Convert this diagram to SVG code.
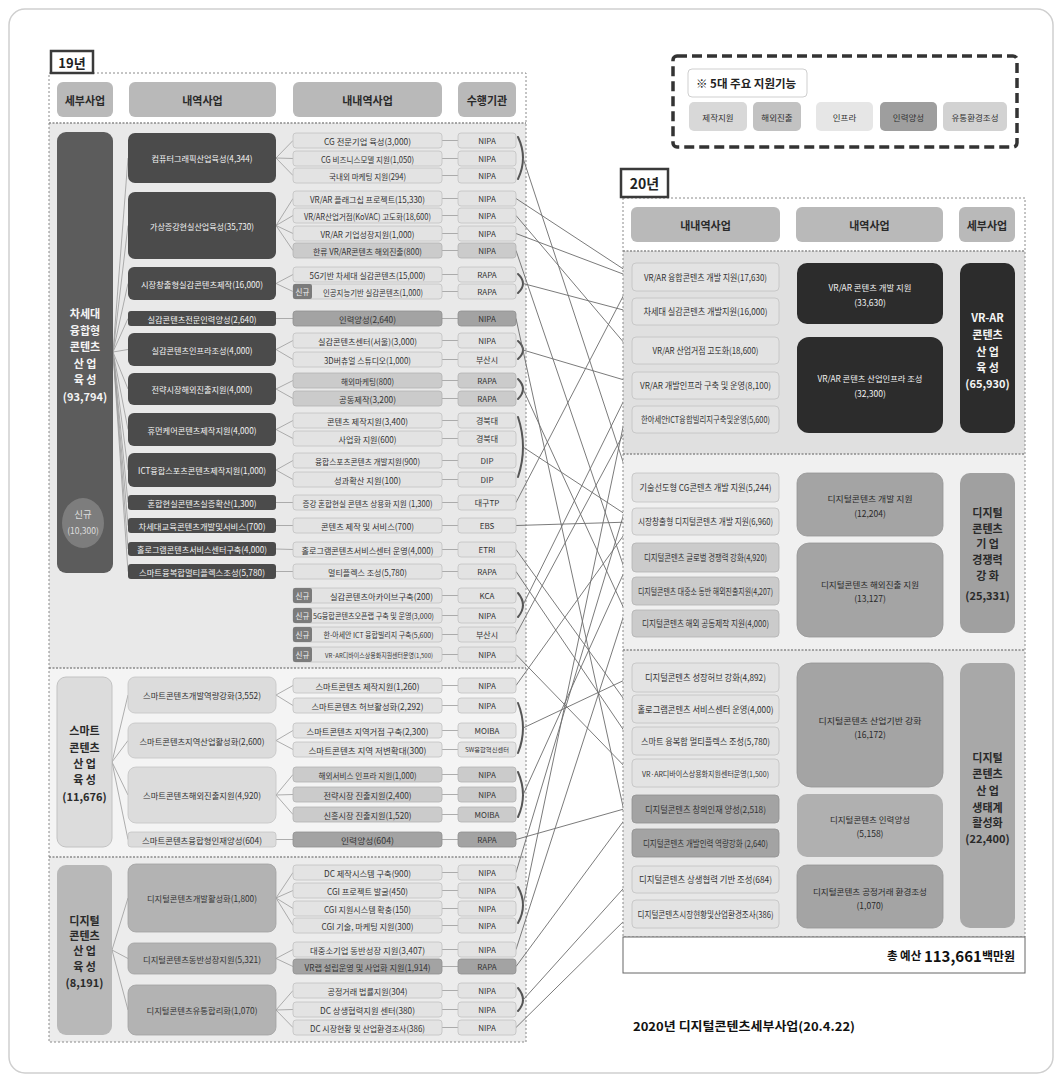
<svg xmlns="http://www.w3.org/2000/svg" width="1062" height="1081" viewBox="0 0 1062 1081">
<defs>
<style>
text{font-family:"Noto Sans CJK KR","Noto Sans",sans-serif;dominant-baseline:central;text-anchor:middle;fill:#333}
.hdr{fill:#b9b9b9}
.hdrT{font-size:11px;font-weight:700;fill:#2a2a2a}
.dk{fill:#4b4b4b}
.dkT{font-size:8.5px;fill:#f2f2f2}
.lt{fill:#e3e3e3;stroke:#c2c2c2;stroke-width:.8}
.md{fill:#cbcbcb;stroke:#b2b2b2;stroke-width:.8}
.hr{fill:#a3a3a3;stroke:#909090;stroke-width:.8}
.sm{fill:#dcdcdc;stroke:#c4c4c4;stroke-width:.8}
.dg{fill:#b3b3b3;stroke:#a2a2a2;stroke-width:.8}
.itT{font-size:8.5px}
.agT{font-size:8px}
.new{fill:#7b7b7b}
.newT{font-size:7.5px;fill:#eee}
.bk{fill:#2c2c2c}
.bkT{font-size:8.5px;fill:#f2f2f2}
.gy{fill:#a4a4a4;stroke:#959595;stroke-width:.8}
.gyT{font-size:8.5px;fill:#2a2a2a}
.rtT{font-size:9px}
.subW{font-size:11px;font-weight:700;fill:#f4f4f4}
.subD{font-size:11px;font-weight:700;fill:#2a2a2a}
.fan{stroke:#9a9a9a;stroke-width:.8;fill:none}
.br{stroke:#555;stroke-width:2;fill:none;stroke-linecap:round}
.cn{stroke:#6c6c6c;stroke-width:.9;fill:none;marker-end:url(#arr)}
.sep{stroke:#8a8a8a;stroke-width:1.5;stroke-dasharray:2 1.5;fill:none}
.frm{stroke:#8a8a8a;stroke-width:1;stroke-dasharray:2 2;fill:none}
.lbl{fill:#fff;stroke:#3a3a3a;stroke-width:2.5}
.lblT{font-size:13px;font-weight:700;fill:#222}
</style>
<marker id="arr" viewBox="0 0 6 6" refX="6" refY="3" markerWidth="6" markerHeight="6" orient="auto" markerUnits="userSpaceOnUse"><path d="M0,0.5 L6,3 L0,5.5 z" fill="#666"/></marker>
</defs>

<!-- page -->
<rect x="0" y="0" width="1062" height="1081" fill="#fff"/>
<rect x="9" y="9" width="1044" height="1064" rx="16" fill="none" stroke="#cfcfcf" stroke-width="1.5"/>

<!-- ===== 2019 panel ===== -->
<g id="panel19">
<rect x="49" y="73" width="477" height="50" fill="#fff"/>
<rect x="49" y="123" width="477" height="545" fill="#e9e9e9"/>
<rect x="49" y="668" width="477" height="189" fill="#f4f4f4"/>
<rect x="49" y="857" width="477" height="185" fill="#ececec"/>
<rect class="frm" x="49" y="73" width="477" height="969"/>
<line class="sep" x1="49" y1="123" x2="526" y2="123"/>
<line class="sep" x1="49" y1="668" x2="526" y2="668"/>
<line class="sep" x1="49" y1="857" x2="526" y2="857"/>
</g>
<g id="label19"><rect class="lbl" x="51" y="51" width="42" height="22"/><text class="lblT" x="72" y="62">19년</text></g>

<g id="h19-sub"><rect class="hdr" x="57" y="82" width="56" height="35" rx="6"/><text class="hdrT" x="85" y="99.5">세부사업</text></g>
<g id="h19-mid"><rect class="hdr" x="129" y="82" width="147" height="35" rx="6"/><text class="hdrT" x="202.5" y="99.5">내역사업</text></g>
<g id="h19-item"><rect class="hdr" x="293" y="82" width="149" height="35" rx="6"/><text class="hdrT" x="367.5" y="99.5">내내역사업</text></g>
<g id="h19-agency"><rect class="hdr" x="458" y="82" width="58" height="35" rx="6"/><text class="hdrT" x="487" y="99.5">수행기관</text></g>

<!-- ===== connectors ===== -->
<g id="connectors">
<!-- 세부사업 -> 내역사업 (2019) -->
<g id="fan19-sub">
<path class="fan" d="M113,352 L128,158 M113,352 L128,225.5 M113,352 L128,283.5 M113,352 L128,318.5 M113,352 L128,349.5 M113,352 L128,389 M113,352 L128,429.5 M113,352 L128,470 M113,352 L128,502.5 M113,352 L128,525.5 M113,352 L128,549 M113,352 L128,571.5"/>
<path class="fan" d="M112,762 L128,695 M112,762 L128,740.5 M112,762 L128,795 M112,762 L128,839.5"/>
<path class="fan" d="M112,950 L128,898 M112,950 L128,958.5 M112,950 L128,1010"/>
</g>
<!-- 내역사업 -> 내내역사업 (2019) -->
<g id="fan19-mid">
<path class="fan" d="M276,158 L293,140.5 M276,158 L293,158.5 M276,158 L293,175.5"/>
<path class="fan" d="M276,225.5 L293,198.5 M276,225.5 L293,215.5 M276,225.5 L293,233.5 M276,225.5 L293,250.5"/>
<path class="fan" d="M276,283.5 L293,274.5 M276,283.5 L293,291.5 M276,318.5 L293,318.5"/>
<path class="fan" d="M276,349.5 L293,340.5 M276,349.5 L293,359.5 M276,389 L293,380.5 M276,389 L293,398.5"/>
<path class="fan" d="M276,429.5 L293,420.5 M276,429.5 L293,438.5 M276,470 L293,460.5 M276,470 L293,479.5"/>
<path class="fan" d="M276,502.5 L293,502.5 M276,525.5 L293,525.5 M276,549 L293,549.5 M276,571.5 L293,571.5"/>
<path class="fan" d="M276,695 L293,685.5 M276,695 L293,705.5 M276,740.5 L293,730.5 M276,740.5 L293,749.5"/>
<path class="fan" d="M276,795 L293,774.5 M276,795 L293,794.5 M276,795 L293,814.5 M276,839.5 L293,839.5"/>
<path class="fan" d="M276,898 L293,872.5 M276,898 L293,890.5 M276,898 L293,908.5 M276,898 L293,925.5"/>
<path class="fan" d="M276,958.5 L293,949.5 M276,958.5 L293,966.5 M276,1010 L293,990.5 M276,1010 L293,1009.5 M276,1010 L293,1027.5"/>
</g>
<!-- 내내역사업 -> 수행기관 (2019) -->
<g id="fan19-agency">
<path class="fan" d="M442,140.5H458M442,158.5H458M442,175.5H458M442,198.5H458M442,215.5H458M442,233.5H458M442,250.5H458M442,274.5H458M442,291.5H458M442,318.5H458M442,340.5H458M442,359.5H458M442,380.5H458M442,398.5H458M442,420.5H458M442,438.5H458M442,460.5H458M442,479.5H458M442,502.5H458M442,525.5H458M442,549.5H458M442,571.5H458M442,595.5H458M442,615.5H458M442,634.5H458M442,654.5H458"/>
<path class="fan" d="M442,685.5H458M442,705.5H458M442,730.5H458M442,749.5H458M442,774.5H458M442,794.5H458M442,814.5H458M442,839.5H458M442,872.5H458M442,890.5H458M442,908.5H458M442,925.5H458M442,949.5H458M442,966.5H458M442,990.5H458M442,1009.5H458M442,1027.5H458"/>
</g>
<!-- 수행기관 묶음 괄호 -->
<g id="brackets">
<path class="br" d="M518,137 Q528,158 518,179"/>
<path class="br" d="M518,274 Q528,283.5 518,293"/>
<path class="br" d="M518,341 Q528,350 518,359"/>
<path class="br" d="M518,379 Q528,389 518,399"/>
<path class="br" d="M518,417 Q528,447 518,477"/>
<path class="br" d="M518,593 Q528,605 518,617"/>
<path class="br" d="M518,703 Q528,728 518,753"/>
<path class="br" d="M518,772 Q528,795 518,817"/>
<path class="br" d="M518,887 Q528,905 518,923"/>
<path class="br" d="M518,988 Q528,1000 518,1011"/>
</g>
<!-- 2019 -> 2020 -->
<g id="links">
<line class="cn" x1="523" y1="158" x2="631" y2="486"/>
<line class="cn" x1="516" y1="872.5" x2="631" y2="490"/>
<line class="cn" x1="516" y1="198.5" x2="631" y2="274"/>
<line class="cn" x1="516" y1="233.5" x2="631" y2="277"/>
<line class="cn" x1="516" y1="502.5" x2="631" y2="281"/>
<line class="cn" x1="516" y1="215.5" x2="631" y2="351"/>
<line class="cn" x1="516" y1="250.5" x2="631" y2="588"/>
<line class="cn" x1="516" y1="949.5" x2="631" y2="593"/>
<line class="cn" x1="523" y1="283.5" x2="631" y2="312"/>
<line class="cn" x1="516" y1="318.5" x2="631" y2="843"/>
<line class="cn" x1="523" y1="350" x2="631" y2="382"/>
<line class="cn" x1="523" y1="605" x2="631" y2="386"/>
<line class="cn" x1="523" y1="905" x2="631" y2="389"/>
<line class="cn" x1="523" y1="389" x2="631" y2="624"/>
<line class="cn" x1="523" y1="447" x2="631" y2="518"/>
<line class="cn" x1="516" y1="525.5" x2="631" y2="522"/>
<line class="cn" x1="516" y1="685.5" x2="631" y2="525"/>
<line class="cn" x1="516" y1="549.5" x2="631" y2="709"/>
<line class="cn" x1="516" y1="571.5" x2="631" y2="741"/>
<line class="cn" x1="516" y1="634.5" x2="631" y2="420"/>
<line class="cn" x1="516" y1="654.5" x2="631" y2="773"/>
<line class="cn" x1="523" y1="728" x2="631" y2="677"/>
<line class="cn" x1="523" y1="795" x2="631" y2="557"/>
<line class="cn" x1="516" y1="839.5" x2="631" y2="807"/>
<line class="cn" x1="516" y1="966.5" x2="631" y2="811"/>
<line class="cn" x1="523" y1="1000" x2="631" y2="880"/>
<line class="cn" x1="516" y1="1027.5" x2="631" y2="914"/>
</g>
<!-- 2020 fans -->
<g id="fan20">
<path class="fan" d="M779,277 L797,293.5 M779,311.5 L797,293.5"/>
<path class="fan" d="M779,350.5 L797,385 M779,385.5 L797,385 M779,419.5 L797,385"/>
<path class="fan" d="M779,487.5 L797,504.5 M779,521.5 L797,504.5"/>
<path class="fan" d="M779,557.5 L797,590 M779,591 L797,590 M779,623.5 L797,590"/>
<path class="fan" d="M779,677.5 L797,725 M779,709 L797,725 M779,741 L797,725 M779,773 L797,725"/>
<path class="fan" d="M779,809 L797,825.5 M779,843 L797,825.5"/>
<path class="fan" d="M779,879.5 L797,896.5 M779,914 L797,896.5"/>
<path class="fan" d="M943,293.5 L960,348 M943,385 L960,348"/>
<path class="fan" d="M943,504.5 L960,553 M943,590 L960,553"/>
<path class="fan" d="M943,725 L960,795.5 M943,825.5 L960,795.5 M943,896.5 L960,795.5"/>
</g>
</g>

<!-- ===== 2019 세부사업 ===== -->
<g id="s19-1">
<rect x="57" y="132" width="56" height="441" rx="9" fill="#5c5c5c"/>
<text class="subW" x="85" y="313">차세대</text><text class="subW" x="85" y="329.5">융합형</text><text class="subW" x="85" y="346">콘텐츠</text><text class="subW" x="85" y="362.5">산 업</text><text class="subW" x="85" y="379">육 성</text><text class="subW" x="85" y="395.5">(93,794)</text>
</g>
<g id="s19-new"><ellipse cx="83" cy="523" rx="21" ry="25" fill="#7d7d7d"/><text x="83" y="514" style="font-size:9.5px;fill:#ddd">신규</text><text x="83" y="530" style="font-size:8.5px;fill:#ddd">(10,300)</text></g>
<g id="s19-2">
<rect x="57" y="677" width="55" height="170" rx="9" fill="#dcdcdc" stroke="#c2c2c2"/>
<text class="subD" x="84.5" y="730">스마트</text><text class="subD" x="84.5" y="746.5">콘텐츠</text><text class="subD" x="84.5" y="763">산 업</text><text class="subD" x="84.5" y="779">육 성</text><text class="subD" x="84.5" y="795.5">(11,676)</text>
</g>
<g id="s19-3">
<rect x="57" y="865" width="55" height="170" rx="9" fill="#b8b8b8"/>
<text class="subD" x="84.5" y="920">디지털</text><text class="subD" x="84.5" y="935">콘텐츠</text><text class="subD" x="84.5" y="950">산 업</text><text class="subD" x="84.5" y="965.5">육 성</text><text class="subD" x="84.5" y="982">(8,191)</text>
</g>

<!-- ===== 2019 내역사업 ===== -->
<g id="m19-01"><rect class="dk" x="128" y="133" width="148" height="50" rx="7"/><text class="dkT" x="202" y="158" textLength="101" lengthAdjust="spacingAndGlyphs">컴퓨터그래픽산업육성(4,344)</text></g>
<g id="m19-02"><rect class="dk" x="128" y="192" width="148" height="67" rx="7"/><text class="dkT" x="202" y="225.5" textLength="104" lengthAdjust="spacingAndGlyphs">가상증강현실산업육성(35,730)</text></g>
<g id="m19-03"><rect class="dk" x="128" y="267" width="148" height="33" rx="6"/><text class="dkT" x="202" y="283.5" textLength="122" lengthAdjust="spacingAndGlyphs">시장창출형실감콘텐츠제작(16,000)</text></g>
<g id="m19-04"><rect class="dk" x="128" y="311" width="148" height="15" rx="3"/><text class="dkT" x="202" y="318.5" textLength="109" lengthAdjust="spacingAndGlyphs">실감콘텐츠전문인력양성(2,640)</text></g>
<g id="m19-05"><rect class="dk" x="128" y="333" width="148" height="33" rx="6"/><text class="dkT" x="202" y="349.5" textLength="101" lengthAdjust="spacingAndGlyphs">실감콘텐츠인프라조성(4,000)</text></g>
<g id="m19-06"><rect class="dk" x="128" y="373" width="148" height="32" rx="6"/><text class="dkT" x="202" y="389" textLength="101" lengthAdjust="spacingAndGlyphs">전략시장해외진출지원(4,000)</text></g>
<g id="m19-07"><rect class="dk" x="128" y="413" width="148" height="33" rx="6"/><text class="dkT" x="202" y="429.5" textLength="109" lengthAdjust="spacingAndGlyphs">휴먼케어콘텐츠제작지원(4,000)</text></g>
<g id="m19-08"><rect class="dk" x="128" y="453" width="148" height="34" rx="6"/><text class="dkT" x="202" y="470" textLength="128" lengthAdjust="spacingAndGlyphs">ICT융합스포츠콘텐츠제작지원(1,000)</text></g>
<g id="m19-09"><rect class="dk" x="128" y="495" width="148" height="15" rx="3"/><text class="dkT" x="202" y="502.5" textLength="109" lengthAdjust="spacingAndGlyphs">혼합현실콘텐츠실증확산(1,300)</text></g>
<g id="m19-10"><rect class="dk" x="128" y="518" width="148" height="15" rx="3"/><text class="dkT" x="202" y="525.5" textLength="127" lengthAdjust="spacingAndGlyphs">차세대교육콘텐츠개발및서비스(700)</text></g>
<g id="m19-11"><rect class="dk" x="128" y="542" width="148" height="14" rx="3"/><text class="dkT" x="202" y="549" textLength="130" lengthAdjust="spacingAndGlyphs">홀로그램콘텐츠서비스센터구축(4,000)</text></g>
<g id="m19-12"><rect class="dk" x="128" y="564" width="148" height="15" rx="3"/><text class="dkT" x="202" y="571.5" textLength="126" lengthAdjust="spacingAndGlyphs">스마트융복합멀티플렉스조성(5,780)</text></g>
<g id="m19-13"><rect class="sm" x="128" y="677" width="148" height="36" rx="7"/><text class="itT" x="202" y="695" textLength="118" lengthAdjust="spacingAndGlyphs">스마트콘텐츠개발역량강화(3,552)</text></g>
<g id="m19-14"><rect class="sm" x="128" y="723" width="148" height="35" rx="7"/><text class="itT" x="202" y="740.5" textLength="125" lengthAdjust="spacingAndGlyphs">스마트콘텐츠지역산업활성화(2,600)</text></g>
<g id="m19-15"><rect class="sm" x="128" y="767" width="148" height="56" rx="8"/><text class="itT" x="202" y="795" textLength="118" lengthAdjust="spacingAndGlyphs">스마트콘텐츠해외진출지원(4,920)</text></g>
<g id="m19-16"><rect class="sm" x="128" y="832" width="148" height="15" rx="3"/><text class="itT" x="202" y="839.5" textLength="120" lengthAdjust="spacingAndGlyphs">스마트콘텐츠융합형인재양성(604)</text></g>
<g id="m19-17"><rect class="dg" x="128" y="864" width="148" height="68" rx="8"/><text class="itT" x="202" y="898" textLength="110" lengthAdjust="spacingAndGlyphs">디지털콘텐츠개발활성화(1,800)</text></g>
<g id="m19-18"><rect class="dg" x="128" y="943" width="148" height="31" rx="6"/><text class="itT" x="202" y="958.5" textLength="118" lengthAdjust="spacingAndGlyphs">디지털콘텐츠동반성장지원(5,321)</text></g>
<g id="m19-19"><rect class="dg" x="128" y="985" width="148" height="50" rx="8"/><text class="itT" x="202" y="1010" textLength="111" lengthAdjust="spacingAndGlyphs">디지털콘텐츠유통합리화(1,070)</text></g>

<!-- ===== 2019 내내역사업 ===== -->
<g id="i19-01"><rect class="lt" x="293" y="133" width="149" height="15" rx="3"/><text class="itT" x="367.5" y="140.5" textLength="87" lengthAdjust="spacingAndGlyphs">CG 전문기업 육성(3,000)</text></g>
<g id="i19-02"><rect class="lt" x="293" y="151" width="149" height="15" rx="3"/><text class="itT" x="367.5" y="158.5" textLength="93" lengthAdjust="spacingAndGlyphs">CG 비즈니스모델 지원(1,050)</text></g>
<g id="i19-03"><rect class="lt" x="293" y="168" width="149" height="15" rx="3"/><text class="itT" x="367.5" y="175.5" textLength="77" lengthAdjust="spacingAndGlyphs">국내외 마케팅 지원(294)</text></g>
<g id="i19-04"><rect class="lt" x="293" y="191" width="149" height="15" rx="3"/><text class="itT" x="367.5" y="198.5" textLength="115" lengthAdjust="spacingAndGlyphs">VR/AR 플래그십 프로젝트(15,330)</text></g>
<g id="i19-05"><rect class="lt" x="293" y="208" width="149" height="15" rx="3"/><text class="itT" x="367.5" y="215.5" textLength="127" lengthAdjust="spacingAndGlyphs">VR/AR산업거점(KoVAC) 고도화(18,600)</text></g>
<g id="i19-06"><rect class="lt" x="293" y="226" width="149" height="15" rx="3"/><text class="itT" x="367.5" y="233.5" textLength="94" lengthAdjust="spacingAndGlyphs">VR/AR 기업성장지원(1,000)</text></g>
<g id="i19-07"><rect class="md" x="293" y="243" width="149" height="15" rx="3"/><text class="itT" x="367.5" y="250.5" textLength="109" lengthAdjust="spacingAndGlyphs">한류 VR/AR콘텐츠 해외진출(800)</text></g>
<g id="i19-08"><rect class="lt" x="293" y="267" width="149" height="15" rx="3"/><text class="itT" x="367.5" y="274.5" textLength="116" lengthAdjust="spacingAndGlyphs">5G기반 차세대 실감콘텐츠(15,000)</text></g>
<g id="i19-09"><rect class="lt" x="293" y="284" width="149" height="15" rx="3"/><rect class="new" x="293" y="284" width="19" height="15" rx="2"/><text class="newT" x="302.5" y="291.5">신규</text><text class="itT" x="373" y="291.5" textLength="100" lengthAdjust="spacingAndGlyphs">인공지능기반 실감콘텐츠(1,000)</text></g>
<g id="i19-10"><rect class="hr" x="293" y="311" width="149" height="15" rx="3"/><text class="itT" x="367.5" y="318.5" textLength="57" lengthAdjust="spacingAndGlyphs">인력양성(2,640)</text></g>
<g id="i19-11"><rect class="lt" x="293" y="333" width="149" height="15" rx="3"/><text class="itT" x="367.5" y="340.5" textLength="99" lengthAdjust="spacingAndGlyphs">실감콘텐츠센터(서울)(3,000)</text></g>
<g id="i19-12"><rect class="lt" x="293" y="352" width="149" height="15" rx="3"/><text class="itT" x="367.5" y="359.5" textLength="87" lengthAdjust="spacingAndGlyphs">3D버츄얼 스튜디오(1,000)</text></g>
<g id="i19-13"><rect class="md" x="293" y="373" width="149" height="15" rx="3"/><text class="itT" x="367.5" y="380.5" textLength="53" lengthAdjust="spacingAndGlyphs">해외마케팅(800)</text></g>
<g id="i19-14"><rect class="md" x="293" y="391" width="149" height="15" rx="3"/><text class="itT" x="367.5" y="398.5" textLength="57" lengthAdjust="spacingAndGlyphs">공동제작(3,200)</text></g>
<g id="i19-15"><rect class="lt" x="293" y="413" width="149" height="15" rx="3"/><text class="itT" x="367.5" y="420.5" textLength="81" lengthAdjust="spacingAndGlyphs">콘텐츠 제작지원(3,400)</text></g>
<g id="i19-16"><rect class="lt" x="293" y="431" width="149" height="15" rx="3"/><text class="itT" x="367.5" y="438.5" textLength="58" lengthAdjust="spacingAndGlyphs">사업화 지원(600)</text></g>
<g id="i19-17"><rect class="lt" x="293" y="453" width="149" height="15" rx="3"/><text class="itT" x="367.5" y="460.5" textLength="105" lengthAdjust="spacingAndGlyphs">융합스포츠콘텐츠 개발지원(900)</text></g>
<g id="i19-18"><rect class="lt" x="293" y="472" width="149" height="15" rx="3"/><text class="itT" x="367.5" y="479.5" textLength="67" lengthAdjust="spacingAndGlyphs">성과확산 지원(100)</text></g>
<g id="i19-19"><rect class="lt" x="293" y="495" width="149" height="15" rx="3"/><text class="itT" x="367.5" y="502.5" textLength="130" lengthAdjust="spacingAndGlyphs">증강 혼합현실 콘텐츠 상용화 지원 (1,300)</text></g>
<g id="i19-20"><rect class="lt" x="293" y="518" width="149" height="15" rx="3"/><text class="itT" x="367.5" y="525.5" textLength="93" lengthAdjust="spacingAndGlyphs">콘텐츠 제작 및 서비스(700)</text></g>
<g id="i19-21"><rect class="lt" x="293" y="542" width="149" height="15" rx="3"/><text class="itT" x="367.5" y="549.5" textLength="132" lengthAdjust="spacingAndGlyphs">홀로그램콘텐츠서비스센터 운영(4,000)</text></g>
<g id="i19-22"><rect class="lt" x="293" y="564" width="149" height="15" rx="3"/><text class="itT" x="367.5" y="571.5" textLength="79" lengthAdjust="spacingAndGlyphs">멀티플렉스 조성(5,780)</text></g>
<g id="i19-23"><rect class="lt" x="293" y="588" width="149" height="15" rx="3"/><rect class="new" x="293" y="588" width="19" height="15" rx="2"/><text class="newT" x="302.5" y="595.5">신규</text><text class="itT" x="381.5" y="595.5" textLength="103" lengthAdjust="spacingAndGlyphs">실감콘텐츠아카이브구축(200)</text></g>
<g id="i19-24"><rect class="lt" x="293" y="608" width="149" height="15" rx="3"/><rect class="new" x="293" y="608" width="19" height="15" rx="2"/><text class="newT" x="302.5" y="615.5">신규</text><text class="itT" x="373.5" y="615.5" style="font-size:7.5px" textLength="121" lengthAdjust="spacingAndGlyphs">5G융합콘텐츠오픈랩 구축 및 운영(3,000)</text></g>
<g id="i19-25"><rect class="lt" x="293" y="627" width="149" height="15" rx="3"/><rect class="new" x="293" y="627" width="19" height="15" rx="2"/><text class="newT" x="302.5" y="634.5">신규</text><text class="itT" x="378.5" y="634.5" style="font-size:7.5px" textLength="110" lengthAdjust="spacingAndGlyphs">한-아세안 ICT 융합빌리지 구축(5,600)</text></g>
<g id="i19-26"><rect class="lt" x="293" y="647" width="149" height="15" rx="3"/><rect class="new" x="293" y="647" width="19" height="15" rx="2"/><text class="newT" x="302.5" y="654.5">신규</text><text class="itT" x="379" y="654.5" style="font-size:6.5px" textLength="108" lengthAdjust="spacingAndGlyphs">VR·AR디바이스상용화지원센터운영(1,500)</text></g>
<g id="i19-27"><rect class="lt" x="293" y="678" width="149" height="15" rx="3"/><text class="itT" x="367.5" y="685.5" textLength="104" lengthAdjust="spacingAndGlyphs">스마트콘텐츠 제작지원(1,260)</text></g>
<g id="i19-28"><rect class="lt" x="293" y="698" width="149" height="15" rx="3"/><text class="itT" x="367.5" y="705.5" textLength="112" lengthAdjust="spacingAndGlyphs">스마트콘텐츠 허브활성화(2,292)</text></g>
<g id="i19-29"><rect class="lt" x="293" y="723" width="149" height="15" rx="3"/><text class="itT" x="367.5" y="730.5" textLength="122" lengthAdjust="spacingAndGlyphs">스마트콘텐츠 지역거점 구축(2,300)</text></g>
<g id="i19-30"><rect class="lt" x="293" y="742" width="149" height="15" rx="3"/><text class="itT" x="367.5" y="749.5" textLength="118" lengthAdjust="spacingAndGlyphs">스마트콘텐츠 지역 저변확대(300)</text></g>
<g id="i19-31"><rect class="md" x="293" y="767" width="149" height="15" rx="3"/><text class="itT" x="367.5" y="774.5" textLength="98" lengthAdjust="spacingAndGlyphs">해외서비스 인프라 지원(1,000)</text></g>
<g id="i19-32"><rect class="md" x="293" y="787" width="149" height="15" rx="3"/><text class="itT" x="367.5" y="794.5" textLength="88" lengthAdjust="spacingAndGlyphs">전략시장 진출지원(2,400)</text></g>
<g id="i19-33"><rect class="md" x="293" y="807" width="149" height="15" rx="3"/><text class="itT" x="367.5" y="814.5" textLength="88" lengthAdjust="spacingAndGlyphs">신흥시장 진출지원(1,520)</text></g>
<g id="i19-34"><rect class="hr" x="293" y="832" width="149" height="15" rx="3"/><text class="itT" x="367.5" y="839.5" textLength="53" lengthAdjust="spacingAndGlyphs">인력양성(604)</text></g>
<g id="i19-35"><rect class="lt" x="293" y="865" width="149" height="15" rx="3"/><text class="itT" x="367.5" y="872.5" textLength="87" lengthAdjust="spacingAndGlyphs">DC 제작시스템 구축(900)</text></g>
<g id="i19-36"><rect class="lt" x="293" y="883" width="149" height="15" rx="3"/><text class="itT" x="367.5" y="890.5" textLength="81" lengthAdjust="spacingAndGlyphs">CGI 프로젝트 발굴(450)</text></g>
<g id="i19-37"><rect class="lt" x="293" y="901" width="149" height="15" rx="3"/><text class="itT" x="367.5" y="908.5" textLength="87" lengthAdjust="spacingAndGlyphs">CGI 지원시스템 확충(150)</text></g>
<g id="i19-38"><rect class="lt" x="293" y="918" width="149" height="15" rx="3"/><text class="itT" x="367.5" y="925.5" textLength="92" lengthAdjust="spacingAndGlyphs">CGI 기술, 마케팅 지원(300)</text></g>
<g id="i19-39"><rect class="lt" x="293" y="942" width="149" height="15" rx="3"/><text class="itT" x="367.5" y="949.5" textLength="115" lengthAdjust="spacingAndGlyphs">대중소기업 동반성장 지원(3,407)</text></g>
<g id="i19-40"><rect class="hr" x="293" y="959" width="149" height="15" rx="3"/><text class="itT" x="367.5" y="966.5" textLength="126" lengthAdjust="spacingAndGlyphs">VR랩 설립운영 및 사업화 지원(1,914)</text></g>
<g id="i19-41"><rect class="lt" x="293" y="983" width="149" height="15" rx="3"/><text class="itT" x="367.5" y="990.5" textLength="80" lengthAdjust="spacingAndGlyphs">공정거래 법률지원(304)</text></g>
<g id="i19-42"><rect class="lt" x="293" y="1002" width="149" height="15" rx="3"/><text class="itT" x="367.5" y="1009.5" textLength="95" lengthAdjust="spacingAndGlyphs">DC 상생협력지원 센터(380)</text></g>
<g id="i19-43"><rect class="lt" x="293" y="1020" width="149" height="15" rx="3"/><text class="itT" x="367.5" y="1027.5" textLength="115" lengthAdjust="spacingAndGlyphs">DC 시장현황 및 산업환경조사(386)</text></g>

<!-- ===== 2019 수행기관 ===== -->
<g id="a19-01"><rect class="lt" x="458" y="133" width="58" height="15" rx="3"/><text class="agT" x="487" y="140.5">NIPA</text></g>
<g id="a19-02"><rect class="lt" x="458" y="151" width="58" height="15" rx="3"/><text class="agT" x="487" y="158.5">NIPA</text></g>
<g id="a19-03"><rect class="lt" x="458" y="168" width="58" height="15" rx="3"/><text class="agT" x="487" y="175.5">NIPA</text></g>
<g id="a19-04"><rect class="lt" x="458" y="191" width="58" height="15" rx="3"/><text class="agT" x="487" y="198.5">NIPA</text></g>
<g id="a19-05"><rect class="lt" x="458" y="208" width="58" height="15" rx="3"/><text class="agT" x="487" y="215.5">NIPA</text></g>
<g id="a19-06"><rect class="lt" x="458" y="226" width="58" height="15" rx="3"/><text class="agT" x="487" y="233.5">NIPA</text></g>
<g id="a19-07"><rect class="md" x="458" y="243" width="58" height="15" rx="3"/><text class="agT" x="487" y="250.5">NIPA</text></g>
<g id="a19-08"><rect class="lt" x="458" y="267" width="58" height="15" rx="3"/><text class="agT" x="487" y="274.5">RAPA</text></g>
<g id="a19-09"><rect class="lt" x="458" y="284" width="58" height="15" rx="3"/><text class="agT" x="487" y="291.5">RAPA</text></g>
<g id="a19-10"><rect class="hr" x="458" y="311" width="58" height="15" rx="3"/><text class="agT" x="487" y="318.5">NIPA</text></g>
<g id="a19-11"><rect class="lt" x="458" y="333" width="58" height="15" rx="3"/><text class="agT" x="487" y="340.5">NIPA</text></g>
<g id="a19-12"><rect class="lt" x="458" y="352" width="58" height="15" rx="3"/><text class="agT" x="487" y="359.5">부산시</text></g>
<g id="a19-13"><rect class="md" x="458" y="373" width="58" height="15" rx="3"/><text class="agT" x="487" y="380.5">RAPA</text></g>
<g id="a19-14"><rect class="md" x="458" y="391" width="58" height="15" rx="3"/><text class="agT" x="487" y="398.5">RAPA</text></g>
<g id="a19-15"><rect class="lt" x="458" y="413" width="58" height="15" rx="3"/><text class="agT" x="487" y="420.5">경북대</text></g>
<g id="a19-16"><rect class="lt" x="458" y="431" width="58" height="15" rx="3"/><text class="agT" x="487" y="438.5">경북대</text></g>
<g id="a19-17"><rect class="lt" x="458" y="453" width="58" height="15" rx="3"/><text class="agT" x="487" y="460.5">DIP</text></g>
<g id="a19-18"><rect class="lt" x="458" y="472" width="58" height="15" rx="3"/><text class="agT" x="487" y="479.5">DIP</text></g>
<g id="a19-19"><rect class="lt" x="458" y="495" width="58" height="15" rx="3"/><text class="agT" x="487" y="502.5">대구TP</text></g>
<g id="a19-20"><rect class="lt" x="458" y="518" width="58" height="15" rx="3"/><text class="agT" x="487" y="525.5">EBS</text></g>
<g id="a19-21"><rect class="lt" x="458" y="542" width="58" height="15" rx="3"/><text class="agT" x="487" y="549.5">ETRI</text></g>
<g id="a19-22"><rect class="lt" x="458" y="564" width="58" height="15" rx="3"/><text class="agT" x="487" y="571.5">RAPA</text></g>
<g id="a19-23"><rect class="lt" x="458" y="588" width="58" height="15" rx="3"/><text class="agT" x="487" y="595.5">KCA</text></g>
<g id="a19-24"><rect class="lt" x="458" y="608" width="58" height="15" rx="3"/><text class="agT" x="487" y="615.5">NIPA</text></g>
<g id="a19-25"><rect class="lt" x="458" y="627" width="58" height="15" rx="3"/><text class="agT" x="487" y="634.5">부산시</text></g>
<g id="a19-26"><rect class="lt" x="458" y="647" width="58" height="15" rx="3"/><text class="agT" x="487" y="654.5">NIPA</text></g>
<g id="a19-27"><rect class="lt" x="458" y="678" width="58" height="15" rx="3"/><text class="agT" x="487" y="685.5">NIPA</text></g>
<g id="a19-28"><rect class="lt" x="458" y="698" width="58" height="15" rx="3"/><text class="agT" x="487" y="705.5">NIPA</text></g>
<g id="a19-29"><rect class="lt" x="458" y="723" width="58" height="15" rx="3"/><text class="agT" x="487" y="730.5">MOIBA</text></g>
<g id="a19-30"><rect class="lt" x="458" y="742" width="58" height="15" rx="3"/><text class="agT" x="487" y="749.5" style="font-size:6px" textLength="44" lengthAdjust="spacingAndGlyphs">SW융합혁신센터</text></g>
<g id="a19-31"><rect class="md" x="458" y="767" width="58" height="15" rx="3"/><text class="agT" x="487" y="774.5">NIPA</text></g>
<g id="a19-32"><rect class="md" x="458" y="787" width="58" height="15" rx="3"/><text class="agT" x="487" y="794.5">NIPA</text></g>
<g id="a19-33"><rect class="md" x="458" y="807" width="58" height="15" rx="3"/><text class="agT" x="487" y="814.5">MOIBA</text></g>
<g id="a19-34"><rect class="hr" x="458" y="832" width="58" height="15" rx="3"/><text class="agT" x="487" y="839.5">RAPA</text></g>
<g id="a19-35"><rect class="lt" x="458" y="865" width="58" height="15" rx="3"/><text class="agT" x="487" y="872.5">NIPA</text></g>
<g id="a19-36"><rect class="lt" x="458" y="883" width="58" height="15" rx="3"/><text class="agT" x="487" y="890.5">NIPA</text></g>
<g id="a19-37"><rect class="lt" x="458" y="901" width="58" height="15" rx="3"/><text class="agT" x="487" y="908.5">NIPA</text></g>
<g id="a19-38"><rect class="lt" x="458" y="918" width="58" height="15" rx="3"/><text class="agT" x="487" y="925.5">NIPA</text></g>
<g id="a19-39"><rect class="lt" x="458" y="942" width="58" height="15" rx="3"/><text class="agT" x="487" y="949.5">NIPA</text></g>
<g id="a19-40"><rect class="hr" x="458" y="959" width="58" height="15" rx="3"/><text class="agT" x="487" y="966.5">RAPA</text></g>
<g id="a19-41"><rect class="lt" x="458" y="983" width="58" height="15" rx="3"/><text class="agT" x="487" y="990.5">NIPA</text></g>
<g id="a19-42"><rect class="lt" x="458" y="1002" width="58" height="15" rx="3"/><text class="agT" x="487" y="1009.5">NIPA</text></g>
<g id="a19-43"><rect class="lt" x="458" y="1020" width="58" height="15" rx="3"/><text class="agT" x="487" y="1027.5">NIPA</text></g>

<!-- ===== legend ===== -->
<g id="legend">
<rect x="673" y="56" width="344" height="91" rx="4" fill="#fff" stroke="#333" stroke-width="3.5" stroke-dasharray="10 5"/>
<rect x="688" y="69" width="119" height="28" rx="4" fill="#fff" stroke="#cfcfcf"/>
<text x="696" y="83" style="text-anchor:start;font-size:11.5px;font-weight:700;fill:#222">※ 5대 주요 지원기능</text>
<rect x="689" y="102" width="58" height="29" rx="5" fill="#d8d8d8"/><text x="718" y="116.5" style="font-size:8.5px">제작지원</text>
<rect x="753" y="102" width="48" height="29" rx="5" fill="#c2c2c2"/><text x="777" y="116.5" style="font-size:8.5px">해외진출</text>
<rect x="816" y="102" width="57" height="29" rx="5" fill="#e6e6e6"/><text x="844.5" y="116.5" style="font-size:8.5px">인프라</text>
<rect x="880" y="102" width="57" height="29" rx="5" fill="#9e9e9e"/><text x="908.5" y="116.5" style="font-size:8.5px">인력양성</text>
<rect x="943" y="102" width="64" height="29" rx="5" fill="#d2d2d2"/><text x="975" y="116.5" style="font-size:8.5px">유통환경조성</text>
</g>

<!-- ===== 2020 panel ===== -->
<g id="panel20">
<rect x="623" y="198" width="402" height="53" fill="#fff"/>
<rect x="623" y="251" width="402" height="203" fill="#e0e0e0"/>
<rect x="623" y="454" width="402" height="196" fill="#f0f0f0"/>
<rect x="623" y="650" width="402" height="287" fill="#e7e7e7"/>
<rect class="frm" x="623" y="198" width="402" height="739"/>
<line class="sep" x1="623" y1="251" x2="1025" y2="251"/>
<line class="sep" x1="623" y1="454" x2="1025" y2="454"/>
<line class="sep" x1="623" y1="650" x2="1025" y2="650"/>
</g>
<g id="label20"><rect class="lbl" x="621" y="169" width="47" height="28"/><text class="lblT" x="644.5" y="183" style="font-size:14px">20년</text></g>

<g id="h20-item"><rect class="hdr" x="631" y="207" width="149" height="35" rx="6"/><text class="hdrT" x="705.5" y="224.5">내내역사업</text></g>
<g id="h20-mid"><rect class="hdr" x="796" y="207" width="147" height="35" rx="6"/><text class="hdrT" x="869.5" y="224.5">내역사업</text></g>
<g id="h20-sub"><rect class="hdr" x="959" y="207" width="56" height="35" rx="6"/><text class="hdrT" x="987" y="224.5">세부사업</text></g>

<!-- ===== 2020 내내역사업 ===== -->
<g id="i20-01"><rect class="lt" x="632" y="263" width="147" height="28" rx="4"/><text class="rtT" x="705.5" y="277" textLength="123" lengthAdjust="spacingAndGlyphs">VR/AR 융합콘텐츠 개발 지원(17,630)</text></g>
<g id="i20-02"><rect class="lt" x="632" y="298" width="147" height="27" rx="4"/><text class="rtT" x="705.5" y="311.5" textLength="124" lengthAdjust="spacingAndGlyphs">차세대 실감콘텐츠 개발지원(16,000)</text></g>
<g id="i20-03"><rect class="lt" x="632" y="337" width="147" height="27" rx="4"/><text class="rtT" x="705.5" y="350.5" textLength="106" lengthAdjust="spacingAndGlyphs">VR/AR 산업거점 고도화(18,600)</text></g>
<g id="i20-04"><rect class="lt" x="632" y="372" width="147" height="27" rx="4"/><text class="rtT" x="705.5" y="385.5" textLength="131" lengthAdjust="spacingAndGlyphs">VR/AR 개발인프라 구축 및 운영(8,100)</text></g>
<g id="i20-05"><rect class="lt" x="632" y="406" width="147" height="27" rx="4"/><text class="rtT" x="705.5" y="419.5" textLength="129" lengthAdjust="spacingAndGlyphs">한아세안ICT융합빌리지구축및운영(5,600)</text></g>
<g id="i20-06"><rect class="lt" x="632" y="473" width="147" height="29" rx="4"/><text class="rtT" x="705.5" y="487.5" textLength="132" lengthAdjust="spacingAndGlyphs">기술선도형 CG콘텐츠 개발 지원(5,244)</text></g>
<g id="i20-07"><rect class="lt" x="632" y="508" width="147" height="27" rx="4"/><text class="rtT" x="705.5" y="521.5" textLength="135" lengthAdjust="spacingAndGlyphs">시장창출형 디지털콘텐츠 개발 지원(6,960)</text></g>
<g id="i20-08"><rect class="md" x="632" y="543" width="147" height="29" rx="4"/><text class="rtT" x="705.5" y="557.5" textLength="123" lengthAdjust="spacingAndGlyphs">디지털콘텐츠 글로벌 경쟁력 강화(4,920)</text></g>
<g id="i20-09"><rect class="md" x="632" y="577" width="147" height="28" rx="4"/><text class="rtT" x="705.5" y="591" textLength="135" lengthAdjust="spacingAndGlyphs">디지털콘텐츠 대중소 동반 해외진출지원(4,207)</text></g>
<g id="i20-10"><rect class="md" x="632" y="610" width="147" height="27" rx="4"/><text class="rtT" x="705.5" y="623.5" textLength="127" lengthAdjust="spacingAndGlyphs">디지털콘텐츠 해외 공동제작 지원(4,000)</text></g>
<g id="i20-11"><rect class="lt" x="632" y="663" width="147" height="29" rx="4"/><text class="rtT" x="705.5" y="677.5" textLength="121" lengthAdjust="spacingAndGlyphs">디지털콘텐츠 성장허브 강화(4,892)</text></g>
<g id="i20-12"><rect class="lt" x="632" y="695" width="147" height="28" rx="4"/><text class="rtT" x="705.5" y="709" textLength="136" lengthAdjust="spacingAndGlyphs">홀로그램콘텐츠 서비스센터 운영(4,000)</text></g>
<g id="i20-13"><rect class="lt" x="632" y="727" width="147" height="28" rx="4"/><text class="rtT" x="705.5" y="741" textLength="129" lengthAdjust="spacingAndGlyphs">스마트 융복합 멀티플렉스 조성(5,780)</text></g>
<g id="i20-14"><rect class="lt" x="632" y="759" width="147" height="28" rx="4"/><text class="rtT" x="705.5" y="773" style="font-size:7.5px" textLength="127" lengthAdjust="spacingAndGlyphs">VR·AR디바이스상용화지원센터운영(1,500)</text></g>
<g id="i20-15"><rect class="hr" x="632" y="795" width="147" height="28" rx="4"/><text class="rtT" x="705.5" y="809" textLength="121" lengthAdjust="spacingAndGlyphs">디지털콘텐츠 창의인재 양성(2,518)</text></g>
<g id="i20-16"><rect class="hr" x="632" y="829" width="147" height="28" rx="4"/><text class="rtT" x="705.5" y="843" textLength="125" lengthAdjust="spacingAndGlyphs">디지털콘텐츠 개발인력 역량강화 (2,640)</text></g>
<g id="i20-17"><rect class="lt" x="632" y="866" width="147" height="27" rx="4"/><text class="rtT" x="705.5" y="879.5" textLength="133" lengthAdjust="spacingAndGlyphs">디지털콘텐츠 상생협력 기반 조성(684)</text></g>
<g id="i20-18"><rect class="lt" x="632" y="900" width="147" height="28" rx="4"/><text class="rtT" x="705.5" y="914" textLength="136" lengthAdjust="spacingAndGlyphs">디지털콘텐츠시장현황및산업환경조사(386)</text></g>

<!-- ===== 2020 내역사업 ===== -->
<g id="m20-01"><rect class="bk" x="797" y="263" width="146" height="61" rx="10"/><text class="bkT" x="870" y="287" textLength="83" lengthAdjust="spacingAndGlyphs">VR/AR 콘텐츠 개발 지원</text><text class="bkT" x="870" y="302">(33,630)</text></g>
<g id="m20-02"><rect class="bk" x="797" y="337" width="146" height="96" rx="12"/><text class="bkT" x="870" y="378" textLength="105" lengthAdjust="spacingAndGlyphs">VR/AR 콘텐츠 산업인프라 조성</text><text class="bkT" x="870" y="393">(32,300)</text></g>
<g id="m20-03"><rect class="gy" x="797" y="473" width="146" height="63" rx="10"/><text class="gyT" x="870" y="498" textLength="85" lengthAdjust="spacingAndGlyphs">디지털콘텐츠 개발 지원</text><text class="gyT" x="870" y="513">(12,204)</text></g>
<g id="m20-04"><rect class="gy" x="797" y="543" width="146" height="94" rx="12"/><text class="gyT" x="870" y="584" textLength="98" lengthAdjust="spacingAndGlyphs">디지털콘텐츠 해외진출 지원</text><text class="gyT" x="870" y="598">(13,127)</text></g>
<g id="m20-05"><rect class="gy" x="797" y="663" width="146" height="124" rx="14"/><text class="gyT" x="870" y="720" textLength="103" lengthAdjust="spacingAndGlyphs">디지털콘텐츠 산업기반 강화</text><text class="gyT" x="870" y="734">(16,172)</text></g>
<g id="m20-06"><rect x="797" y="794" width="146" height="63" rx="10" fill="#b0b0b0"/><text class="gyT" x="870" y="819" textLength="80" lengthAdjust="spacingAndGlyphs">디지털콘텐츠 인력양성</text><text class="gyT" x="870" y="833">(5,158)</text></g>
<g id="m20-07"><rect class="gy" x="797" y="865" width="146" height="63" rx="10"/><text class="gyT" x="870" y="891" textLength="114" lengthAdjust="spacingAndGlyphs">디지털콘텐츠 공정거래 환경조성</text><text class="gyT" x="870" y="905">(1,070)</text></g>

<!-- ===== 2020 세부사업 ===== -->
<g id="s20-1"><rect class="bk" x="960" y="263" width="55" height="170" rx="10"/>
<text class="subW" x="987.5" y="317">VR-AR</text><text class="subW" x="987.5" y="334">콘텐츠</text><text class="subW" x="987.5" y="350.5">산 업</text><text class="subW" x="987.5" y="366.5">육 성</text><text class="subW" x="987.5" y="383">(65,930)</text></g>
<g id="s20-2"><rect x="960" y="473" width="55" height="160" rx="10" fill="#a0a0a0"/>
<text class="subD" x="987.5" y="512">디지털</text><text class="subD" x="987.5" y="527.5">콘텐츠</text><text class="subD" x="987.5" y="543">기 업</text><text class="subD" x="987.5" y="559">경쟁력</text><text class="subD" x="987.5" y="575">강 화</text><text class="subD" x="987.5" y="595">(25,331)</text></g>
<g id="s20-3"><rect x="960" y="663" width="55" height="265" rx="10" fill="#a8a8a8"/>
<text class="subD" x="987.5" y="757">디지털</text><text class="subD" x="987.5" y="773">콘텐츠</text><text class="subD" x="987.5" y="790">산 업</text><text class="subD" x="987.5" y="806.5">생태계</text><text class="subD" x="987.5" y="822">활성화</text><text class="subD" x="987.5" y="838">(22,400)</text></g>

<!-- ===== total ===== -->
<g id="total">
<rect x="623" y="937" width="402" height="36" fill="#fff" stroke="#666"/>
<text x="1015" y="955" style="text-anchor:end;font-weight:700;fill:#111"><tspan style="font-size:11.5px">총 예산 </tspan><tspan style="font-size:15px">113,661</tspan><tspan style="font-size:12px">백만원</tspan></text>
</g>

<g id="caption"><text x="633" y="1025" style="text-anchor:start;font-size:12px;font-weight:700;fill:#111" textLength="222" lengthAdjust="spacingAndGlyphs">2020년 디지털콘텐츠세부사업(20.4.22)</text></g>
</svg>
